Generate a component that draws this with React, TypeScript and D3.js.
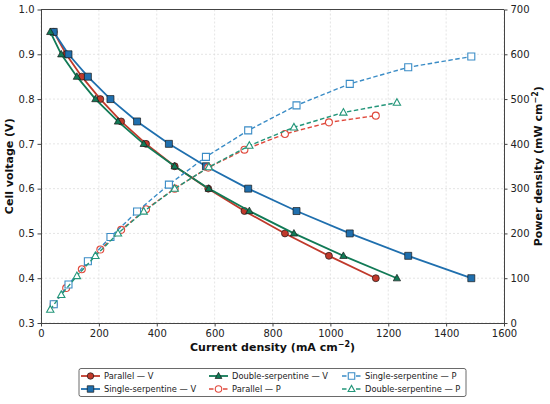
import { useEffect, useRef } from "react";
import * as d3 from "d3";

const voltage = [0.95, 0.9, 0.85, 0.8, 0.75, 0.7, 0.65, 0.6, 0.55, 0.5, 0.45, 0.4];

const parallelI = [44, 87, 141, 205, 277, 363, 462, 578, 703, 843, 995, 1157];
const singleI = [44, 95, 162, 240, 332, 442, 570, 716, 883, 1067, 1269, 1487];
const doubleI = [32, 70, 124, 188, 266, 355, 462, 580, 720, 874, 1045, 1230];

const parallelP = [42, 78, 120, 164, 208, 254, 300, 347, 387, 422, 448, 463];
const singleP = [42, 86, 138, 192, 249, 309, 371, 430, 486, 534, 571, 595];
const doubleP = [30, 63, 105, 150, 200, 249, 300, 348, 396, 437, 470, 492];

const xTicks = [0, 200, 400, 600, 800, 1000, 1200, 1400, 1600];
const vTicks = [0.3, 0.4, 0.5, 0.6, 0.7, 0.8, 0.9, 1.0];
const pTicks = [0, 100, 200, 300, 400, 500, 600, 700];

type Marker = "circle" | "square" | "triangle";

interface Series {
  name: string;
  x: number[];
  y: number[];
  axis: "v" | "p";
  color: string;
  marker: Marker;
}

const series: Series[] = [
  { name: "Parallel — V", x: parallelI, y: voltage, axis: "v", color: "#c0392b", marker: "circle" },
  { name: "Single-serpentine — V", x: singleI, y: voltage, axis: "v", color: "#1f6fae", marker: "square" },
  { name: "Double-serpentine — V", x: doubleI, y: voltage, axis: "v", color: "#117a56", marker: "triangle" },
  { name: "Parallel — P", x: parallelI, y: parallelP, axis: "p", color: "#e0493c", marker: "circle" },
  { name: "Single-serpentine — P", x: singleI, y: singleP, axis: "p", color: "#3a8cc6", marker: "square" },
  { name: "Double-serpentine — P", x: doubleI, y: doubleP, axis: "p", color: "#24967a", marker: "triangle" },
];

const W = 550;
const H = 404;
const FONT = "DejaVu Sans, sans-serif";

function markerPath(m: Marker, s: number) {
  if (m === "circle") return d3.symbol(d3.symbolCircle, s * s * 0.78)()!;
  if (m === "square") return d3.symbol(d3.symbolSquare, s * s)()!;
  const h = s * 0.9;
  return `M0,${-h * 0.62}L${h * 0.58},${h * 0.42}L${-h * 0.58},${h * 0.42}Z`;
}

function drawMarker(g: d3.Selection<SVGGElement, unknown, null, undefined>, s: Series, x: number, y: number, size: number) {
  const filled = s.axis === "v";
  g.append("path")
    .attr("d", markerPath(s.marker, size))
    .attr("transform", `translate(${x},${y})`)
    .attr("fill", filled ? s.color : "white")
    .attr("stroke", filled ? "#1a1a1a" : s.color)
    .attr("stroke-width", filled ? 0.7 : 1.1);
}

const App = () => {
  const ref = useRef<SVGSVGElement>(null);

  useEffect(() => {
    if (!ref.current) return;
    const svg = d3.select(ref.current);
    svg.selectAll("*").remove();

    const left = 41, right = 504, top = 9.5, bottom = 323;

    const x = d3.scaleLinear().domain([0, 1600]).range([left, right]);
    const yV = d3.scaleLinear().domain([0.3, 1.0]).range([bottom, top]);
    const yP = d3.scaleLinear().domain([0, 700]).range([bottom, top]);

    // grid
    const grid = svg.append("g");
    xTicks.forEach(t => {
      grid.append("line")
        .attr("x1", x(t)).attr("x2", x(t)).attr("y1", top).attr("y2", bottom)
        .attr("stroke", "#d9d9d9").attr("stroke-width", 0.7).attr("stroke-dasharray", "2,2");
    });
    vTicks.forEach(t => {
      grid.append("line")
        .attr("x1", left).attr("x2", right).attr("y1", yV(t)).attr("y2", yV(t))
        .attr("stroke", "#d9d9d9").attr("stroke-width", 0.7).attr("stroke-dasharray", "2,2");
    });

    const plot = svg.append("g");
    series.forEach(s => {
      const yS = s.axis === "v" ? yV : yP;
      const pts = s.x.map((xi, i) => [x(xi), yS(s.y[i])] as [number, number]);
      plot.append("path")
        .attr("d", d3.line()(pts)!)
        .attr("fill", "none")
        .attr("stroke", s.color)
        .attr("stroke-width", s.axis === "v" ? 1.8 : 1.4)
        .attr("stroke-dasharray", s.axis === "v" ? null : "4.5,2.5");
      pts.forEach(([px, py]) => drawMarker(plot, s, px, py, 7));
    });

    // axes
    const styleAxis = (g: d3.Selection<SVGGElement, unknown, null, undefined>) => {
      g.selectAll("path").attr("stroke", "#444").attr("stroke-width", 1);
      g.selectAll("line").attr("stroke", "#444");
      g.selectAll("text").attr("font-family", FONT).attr("font-size", 10).attr("fill", "#222");
    };

    svg.append("g")
      .attr("transform", `translate(0,${bottom})`)
      .call(d3.axisBottom(x).tickValues(xTicks).tickSize(3.5).tickPadding(3).tickSizeOuter(0).tickFormat(d3.format("d")))
      .call(styleAxis);
    svg.append("g")
      .attr("transform", `translate(${left},0)`)
      .call(d3.axisLeft(yV).tickValues(vTicks).tickSize(3.5).tickPadding(3).tickSizeOuter(0).tickFormat(d3.format(".1f")))
      .call(styleAxis);
    svg.append("g")
      .attr("transform", `translate(${right},0)`)
      .call(d3.axisRight(yP).tickValues(pTicks).tickSize(3.5).tickPadding(3).tickSizeOuter(0).tickFormat(d3.format("d")))
      .call(styleAxis);
    svg.append("line")
      .attr("x1", left).attr("x2", right).attr("y1", top).attr("y2", top)
      .attr("stroke", "#444").attr("stroke-width", 1);

    // axis titles
    const xt = svg.append("text")
      .attr("x", (left + right) / 2).attr("y", 351)
      .attr("text-anchor", "middle").attr("font-family", FONT)
      .attr("font-size", 11).attr("font-weight", "bold").attr("fill", "#111");
    xt.append("tspan").text("Current density (mA cm");
    xt.append("tspan").attr("dy", -4).attr("font-size", 8).text("−2");
    xt.append("tspan").attr("dy", 4).text(")");

    svg.append("text")
      .attr("transform", `translate(13,${(top + bottom) / 2}) rotate(-90)`)
      .attr("text-anchor", "middle").attr("font-family", FONT)
      .attr("font-size", 11).attr("font-weight", "bold").attr("fill", "#111")
      .text("Cell voltage (V)");

    const pt = svg.append("text")
      .attr("transform", `translate(542,${(top + bottom) / 2}) rotate(-90)`)
      .attr("text-anchor", "middle").attr("font-family", FONT)
      .attr("font-size", 11).attr("font-weight", "bold").attr("fill", "#111");
    pt.append("tspan").text("Power density (mW cm");
    pt.append("tspan").attr("dy", -4).attr("font-size", 8).text("−2");
    pt.append("tspan").attr("dy", 4).text(")");

    // legend (column-major, 3 columns)
    const leg = svg.append("g");
    leg.append("rect")
      .attr("x", 79).attr("y", 368.5).attr("width", 387).attr("height", 28)
      .attr("rx", 2).attr("fill", "white").attr("stroke", "#444").attr("stroke-width", 0.8);
    const colX = [81, 209, 342];
    const rowY = [376, 389];
    series.forEach((s, i) => {
      const cx = colX[Math.floor(i / 2)];
      const cy = rowY[i % 2];
      leg.append("line")
        .attr("x1", cx).attr("x2", cx + 19).attr("y1", cy).attr("y2", cy)
        .attr("stroke", s.color).attr("stroke-width", s.axis === "v" ? 1.8 : 1.4)
        .attr("stroke-dasharray", s.axis === "v" ? null : "4.5,2.5");
      drawMarker(leg, s, cx + 9.5, cy, 6.5);
      leg.append("text")
        .attr("x", cx + 23).attr("y", cy + 3)
        .attr("font-family", FONT).attr("font-size", 8.3).attr("fill", "#222")
        .text(s.name);
    });
  }, []);

  return (
    <svg ref={ref} width={W} height={H} style={{ position: "absolute", left: 0, top: 0, background: "white" }} />
  );
};

export default App;
